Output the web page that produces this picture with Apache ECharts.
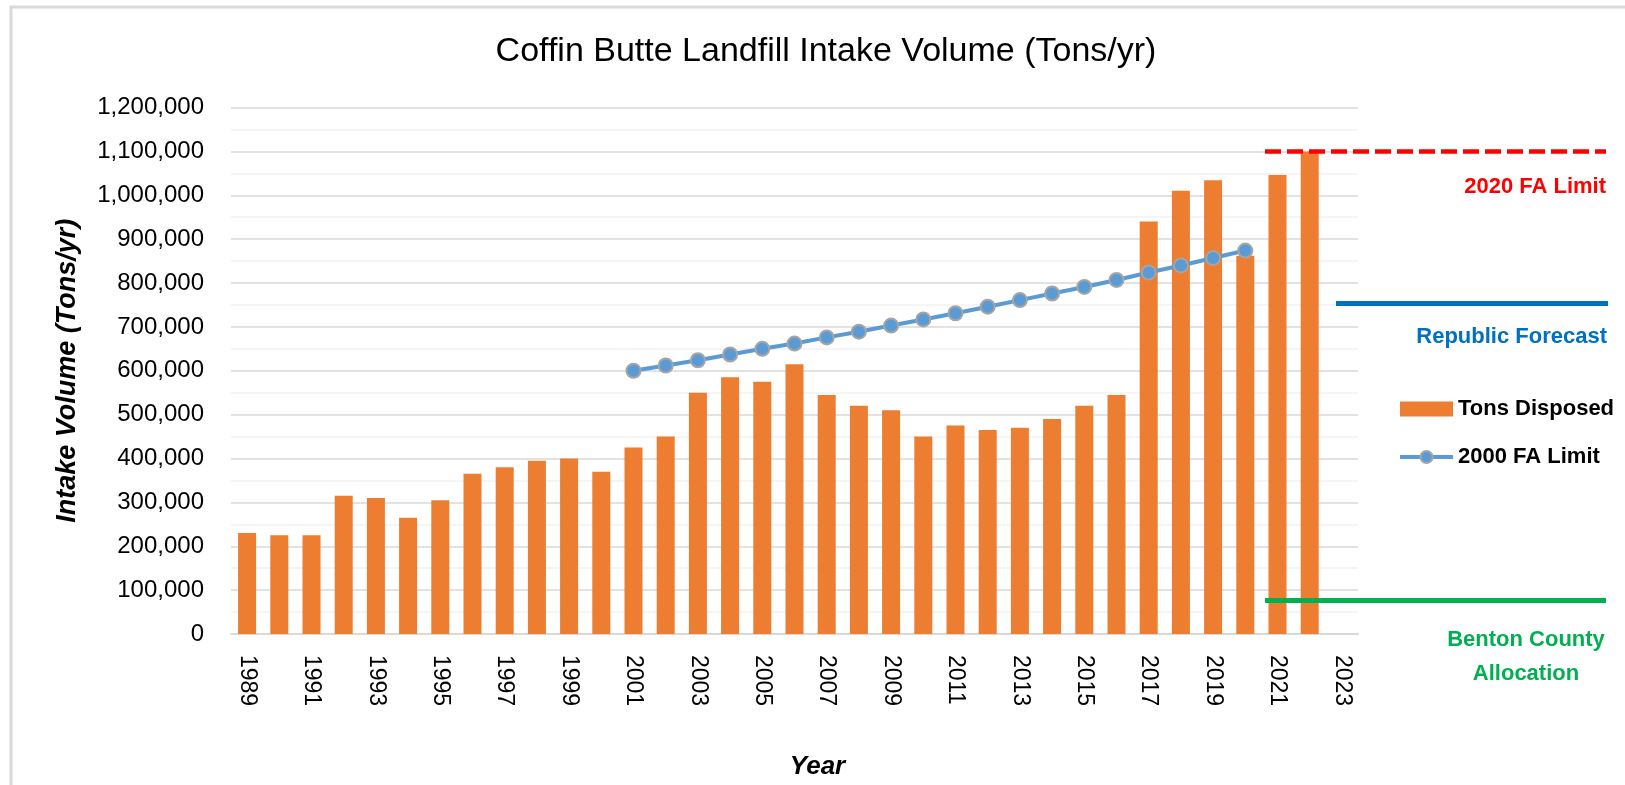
<!DOCTYPE html>
<html>
<head>
<meta charset="utf-8">
<title>Coffin Butte Landfill Intake Volume</title>
<script src="https://cdn.jsdelivr.net/npm/echarts@6/dist/echarts.min.js"></script>
<style>
  html, body { margin: 0; padding: 0; background: #fff; }
  #chart { width: 1625px; height: 785px; }
</style>
</head>
<body>
<div id="chart"></div>
<script>
// data
var years = ['1989', '1990', '1991', '1992', '1993', '1994', '1995', '1996', '1997', '1998',
             '1999', '2000', '2001', '2002', '2003', '2004', '2005', '2006', '2007', '2008',
             '2009', '2010', '2011', '2012', '2013', '2014', '2015', '2016', '2017', '2018',
             '2019', '2020', '2021', '2022', '2023'];

var tonsDisposed = [230000, 225000, 225000, 315000, 310000, 265000, 305000, 365000, 380000, 395000,
                    400000, 370000, 425000, 450000, 550000, 585000, 575000, 615000, 545000, 520000,
                    510000, 450000, 475000, 465000, 470000, 490000, 520000, 545000, 940000, 1010000,
                    1034000, 862000, 1046000, 1100000, null];

var faLimit2000 = [null, null, null, null, null, null, null, null, null, null,
                   null, null, 600000, 612000, 624000, 637000, 650000, 662000, 676000, 689000,
                   703000, 717000, 731000, 746000, 761000, 776000, 791000, 807000, 824000, 840000,
                   857000, 874000, null, null, null];

// reference levels drawn right of the bars
var faLimit2020 = 1100000;
var republicForecast = 753000;
var bentonAllocation = 77000;

var yMin = 0, yMax = 1200000, yStep = 100000;

var font = 'Liberation Sans';

var chart = echarts.init(document.getElementById('chart'));
chart.setOption({
    animation: false,
    title: {
        text: 'Coffin Butte Landfill Intake Volume (Tons/yr)',
        left: 826,
        top: 35,
        padding: 0,
        textAlign: 'center',
        textStyle: { fontFamily: font, fontSize: 34, fontWeight: 'normal', color: '#000' }
    },
    grid: { left: 231, right: 267, top: 107.5, bottom: 150.7 },
    legend: {
        orient: 'vertical',
        left: 1393,
        top: 392,
        itemWidth: 53,
        itemHeight: 15,
        itemGap: 24,
        selectedMode: false,
        textStyle: { fontFamily: font, fontSize: 22, fontWeight: 'bold', color: '#000', lineHeight: 24 },
        data: [
            { name: 'Tons Disposed', icon: 'rect' },
            { name: '2000 FA Limit', lineStyle: { width: 4 } }
        ]
    },
    xAxis: {
        type: 'category',
        data: years,
        boundaryGap: true,
        axisLine: { lineStyle: { color: '#d9d9d9', width: 2 } },
        axisTick: { show: false },
        axisLabel: { interval: 1, rotate: -90, margin: 21, fontFamily: font, fontSize: 23, color: '#000' },
        name: 'Year',
        nameLocation: 'middle',
        nameGap: 120,
        nameTextStyle: { fontFamily: font, fontSize: 26, fontWeight: 'bold', fontStyle: 'italic', color: '#000', padding: [0, 0, 0, 46] }
    },
    yAxis: {
        type: 'value',
        min: yMin,
        max: yMax,
        interval: yStep,
        name: 'Intake Volume (Tons/yr)',
        nameLocation: 'middle',
        nameGap: 150,
        nameRotate: 90,
        nameTextStyle: { fontFamily: font, fontSize: 27, fontWeight: 'bold', fontStyle: 'italic', color: '#000' },
        axisLine: { show: false },
        axisTick: { show: false },
        axisLabel: {
            margin: 27, fontFamily: font, fontSize: 24, color: '#000',
            formatter: function (v) { return v.toLocaleString('en-US'); }
        },
        splitLine: { lineStyle: { color: '#d9d9d9', width: 1.5 } },
        minorTick: { show: false, splitNumber: 2 },
        minorSplitLine: { show: true, lineStyle: { color: '#f2f2f2', width: 1.5 } }
    },
    series: [
        {
            name: 'Tons Disposed',
            type: 'bar',
            data: tonsDisposed,
            barWidth: 18,
            clip: false,
            itemStyle: { color: '#ED7D31' },
            markLine: {
                silent: true,
                animation: false,
                symbol: ['none', 'none'],
                label: { show: false },
                emphasis: { disabled: true },
                data: [
                    [{ yAxis: faLimit2020, x: 1265, lineStyle: { color: '#FF0000', width: 4.5, type: [16, 6] } },
                     { yAxis: faLimit2020, x: 1606 }],
                    [{ yAxis: republicForecast, x: 1336, lineStyle: { color: '#0070C0', width: 5, type: 'solid' } },
                     { yAxis: republicForecast, x: 1608 }],
                    [{ yAxis: bentonAllocation, x: 1265, lineStyle: { color: '#00B050', width: 5, type: 'solid' } },
                     { yAxis: bentonAllocation, x: 1606 }]
                ]
            }
        },
        {
            name: '2000 FA Limit',
            type: 'line',
            data: faLimit2000,
            z: 3,
            symbol: 'circle',
            symbolSize: 14,
            lineStyle: { color: '#5B9BD5', width: 4 },
            itemStyle: { color: '#5B9BD5', borderColor: '#A5A5A5', borderWidth: 2 }
        }
    ],
    graphic: [
        {
            type: 'rect', silent: true, z: -1,
            shape: { x: 11, y: 7, width: 1700, height: 900 },
            style: { fill: 'none', stroke: '#d9d9d9', lineWidth: 3 }
        },
        {
            type: 'text', x: 1606, y: 187,
            style: { text: '2020 FA Limit', align: 'right', verticalAlign: 'middle',
                     font: 'bold 22px "Liberation Sans"', fill: '#FF0000' }
        },
        {
            type: 'text', x: 1607, y: 337,
            style: { text: 'Republic Forecast', align: 'right', verticalAlign: 'middle',
                     font: 'bold 22px "Liberation Sans"', fill: '#0070C0' }
        },
        {
            type: 'text', x: 1526, y: 657,
            style: { text: 'Benton County\nAllocation', align: 'center', verticalAlign: 'middle',
                     font: 'bold 22px "Liberation Sans"', lineHeight: 34, fill: '#00B050' }
        }
    ]
});
</script>
</body>
</html>
